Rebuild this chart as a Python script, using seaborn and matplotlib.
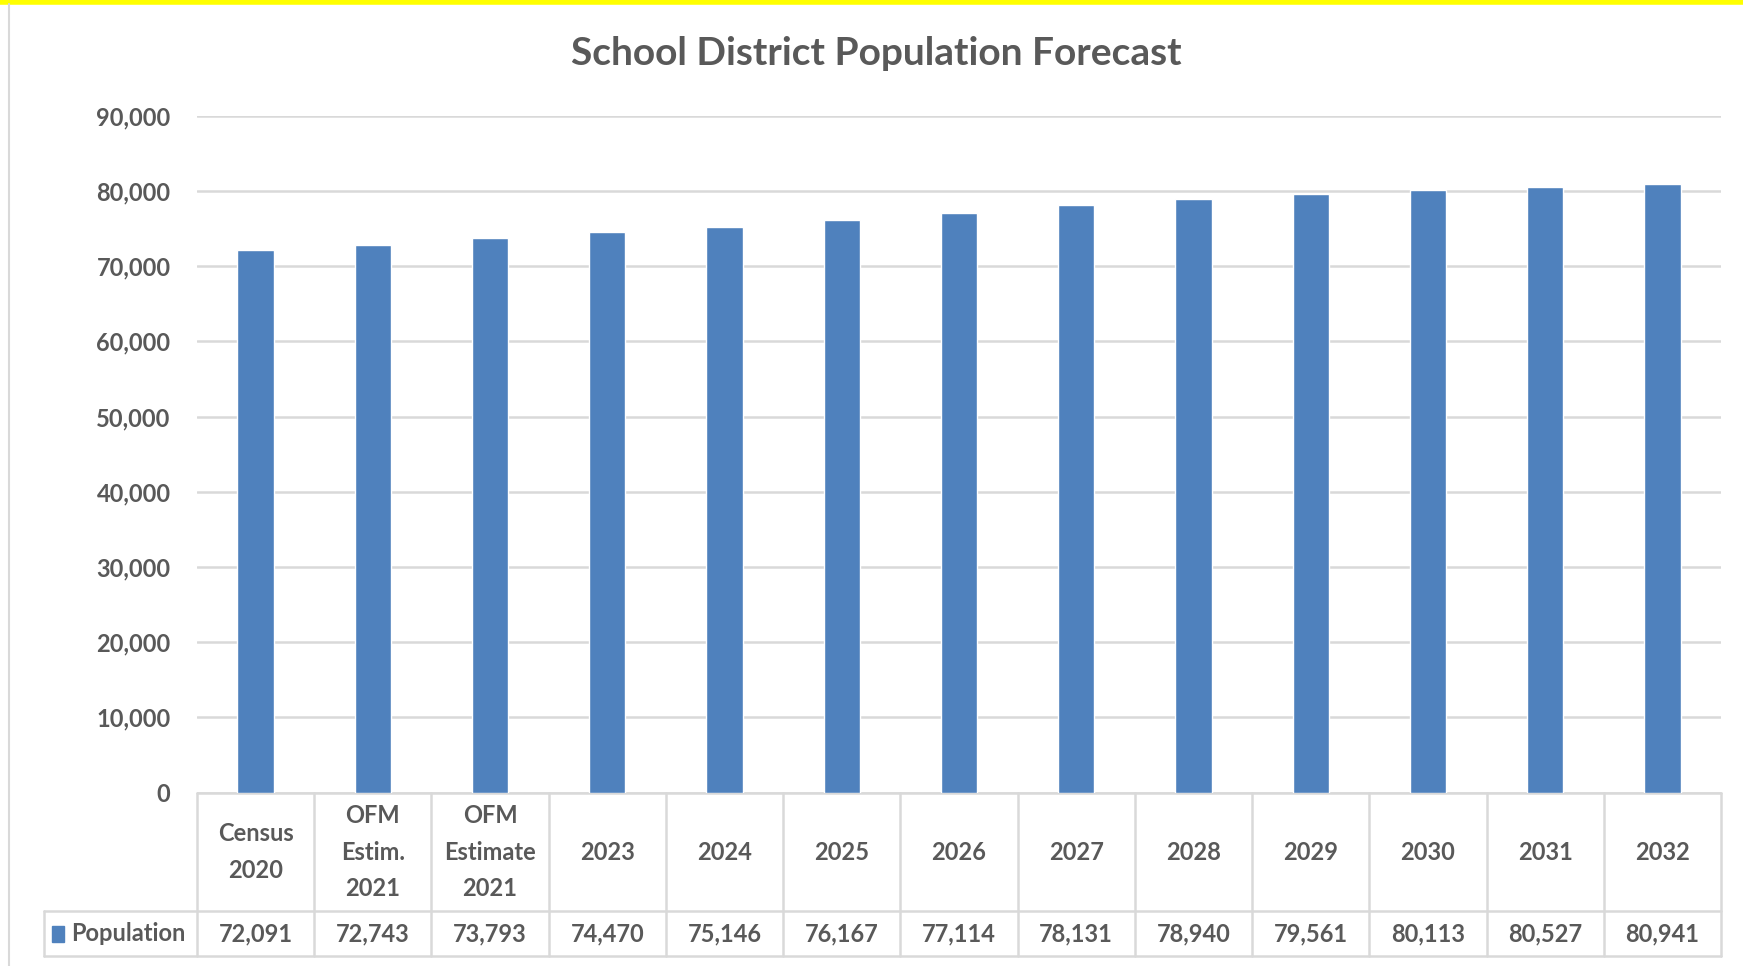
import matplotlib
matplotlib.use("Agg")
import matplotlib.pyplot as plt
import matplotlib.transforms as mtransforms
from matplotlib.lines import Line2D
from matplotlib.patches import Rectangle
import pandas as pd
import seaborn as sns

# Chart data
categories = ["Census\n2020", "OFM\nEstim.\n2021", "OFM\nEstimate\n2021", "2023", "2024", "2025",
              "2026", "2027", "2028", "2029", "2030", "2031", "2032"]
population = [72091, 72743, 73793, 74470, 75146, 76167, 77114, 78131, 78940, 79561, 80113, 80527, 80941]
y_ticks = [0, 10000, 20000, 30000, 40000, 50000, 60000, 70000, 80000, 90000]
series_name = "Population"

BAR_COLOR = "#4F81BD"
TEXT_COLOR = "#595959"
GRID_COLOR = "#D9D9D9"
FS = 17

sns.set_style("white")
plt.rcParams["font.family"] = ["Lato", "DejaVu Sans"]

df = pd.DataFrame({"category": categories, "population": population})

fig = plt.figure(figsize=(17.43, 9.66), dpi=100)
ax = fig.add_axes([0.113, 0.1795, 0.8744, 0.7008])

sns.barplot(data=df, x="category", y="population", color=BAR_COLOR, width=0.31,
            saturation=1, ax=ax, zorder=3)

ax.set_ylim(0, 90000)
ax.set_xlim(-0.5, len(categories) - 0.5)
ax.set_yticks(y_ticks)
ax.set_yticklabels([f"{v:,}" for v in y_ticks], fontsize=FS, fontweight="bold", color=TEXT_COLOR)
ax.tick_params(axis="y", length=0, pad=19)
ax.set_xticks([])
ax.set_xlabel("")
ax.set_ylabel("")
ax.yaxis.grid(True, color=GRID_COLOR, linewidth=1.8, zorder=0)
ax.set_axisbelow(True)
for side in ["left", "right", "top", "bottom"]:
    ax.spines[side].set_visible(False)

# data table under the plot (x in data units, y in axes units)
trans = mtransforms.blended_transform_factory(ax.transData, ax.transAxes)
n = len(categories)
header_bottom = -0.1756
table_bottom = -0.2414
table_left = -1.805
line_kw = dict(color=GRID_COLOR, linewidth=1.8, transform=trans, clip_on=False)

ax.add_line(Line2D([-0.5, n - 0.5], [0, 0], **line_kw))
ax.add_line(Line2D([table_left, n - 0.5], [header_bottom, header_bottom], **line_kw))
ax.add_line(Line2D([table_left, n - 0.5], [table_bottom, table_bottom], **line_kw))
ax.add_line(Line2D([table_left, table_left], [header_bottom, table_bottom], **line_kw))
for k in range(n + 1):
    ax.add_line(Line2D([k - 0.5, k - 0.5], [0, table_bottom], **line_kw))

for i, (cat, val) in enumerate(zip(categories, population)):
    ax.text(i, header_bottom / 2, cat, transform=trans, ha="center", va="center",
            fontsize=FS, fontweight="bold", color=TEXT_COLOR, linespacing=1.72)
    ax.text(i, (header_bottom + table_bottom) / 2, f"{val:,}", transform=trans,
            ha="center", va="center", fontsize=FS, fontweight="bold", color=TEXT_COLOR)

# legend key in the row label
ax.add_patch(Rectangle((-1.74, (header_bottom + table_bottom) / 2 - 0.0115), 0.11, 0.023,
                       transform=trans, color=BAR_COLOR, clip_on=False))
ax.text(-1.57, (header_bottom + table_bottom) / 2, series_name, transform=trans,
        ha="left", va="center", fontsize=FS, fontweight="bold", color=TEXT_COLOR)

fig.suptitle("School District Population Forecast", x=0.5025, y=0.945, va="center",
             fontsize=28, fontweight="bold", color=TEXT_COLOR)

# frame bits: yellow top strip and gray left border
fig.add_artist(Line2D([0, 1], [0.998, 0.998], color="#FFFF00", linewidth=4, transform=fig.transFigure))
fig.add_artist(Line2D([0.0052, 0.0052], [0, 0.996], color="#D9D9D9", linewidth=1.5, transform=fig.transFigure))

fig.savefig("out.png", dpi=100, facecolor="white")
